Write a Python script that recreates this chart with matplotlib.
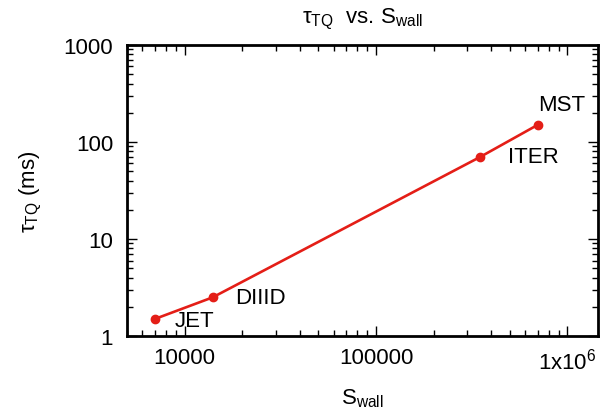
import numpy as np
import matplotlib
matplotlib.use('Agg')
import matplotlib.pyplot as plt

plt.rcParams['font.family'] = ['Liberation Sans', 'DejaVu Sans']
plt.rcParams['mathtext.fontset'] = 'custom'
plt.rcParams['mathtext.rm'] = 'Liberation Sans'
plt.rcParams['mathtext.it'] = 'Liberation Sans'
plt.rcParams['mathtext.default'] = 'regular'

# data
machines = ['JET', 'DIIID', 'ITER', 'MST']
s_wall = [7000, 14000, 350000, 700000]
tau_tq = [1.5, 2.5, 70, 150]

x_ticks = [10000, 100000, 1000000]
x_ticklabels = ['10000', '100000', '1x10$^{6}$']
y_ticks = [1, 10, 100, 1000]
y_ticklabels = ['1', '10', '100', '1000']

# label offsets in points from each point
label_offsets = {'JET': (14, -1), 'DIIID': (16, 0), 'ITER': (20, 0), 'MST': (0.5, 14.5)}

fig = plt.figure(figsize=(6, 4.14), dpi=100)
ax = fig.add_axes([0.2117, 0.186, 0.7853, 0.703])

ax.plot(s_wall, tau_tq, color='#e41e17', lw=1.9, marker='o', ms=6)
for name, x, y in zip(machines, s_wall, tau_tq):
    ax.annotate(name, (x, y), xytext=label_offsets[name], textcoords='offset points',
                fontsize=16, ha='left', va='center')

ax.set_xscale('log')
ax.set_yscale('log')
ax.set_xlim(5000, 1.45e6)
ax.set_ylim(1, 1000)
ax.set_xticks(x_ticks)
ax.set_xticklabels(x_ticklabels)
ax.set_yticks(y_ticks)
ax.set_yticklabels(y_ticklabels)
ax.xaxis.set_minor_locator(matplotlib.ticker.LogLocator(base=10, subs=np.arange(2, 10)))
ax.yaxis.set_minor_locator(matplotlib.ticker.LogLocator(base=10, subs=np.arange(2, 10)))
ax.xaxis.set_minor_formatter(matplotlib.ticker.NullFormatter())
ax.yaxis.set_minor_formatter(matplotlib.ticker.NullFormatter())
ax.tick_params(which='both', direction='in', top=True, right=True, labelsize=16, width=1)
ax.tick_params(which='major', length=7)
ax.tick_params(axis='y', which='major', pad=10)
ax.tick_params(axis='x', which='major', pad=8)
ax.tick_params(which='minor', length=4)
for sp in ax.spines.values():
    sp.set_linewidth(2)

ax.set_xlabel('S$_{wall}$', fontsize=16, labelpad=10)
ax.set_ylabel('τ$_{TQ}$ (ms)', fontsize=16, labelpad=14)
ax.set_title('τ$_{TQ}$  vs. S$_{wall}$', fontsize=16, pad=16)

fig.savefig('out.png', dpi=100)
